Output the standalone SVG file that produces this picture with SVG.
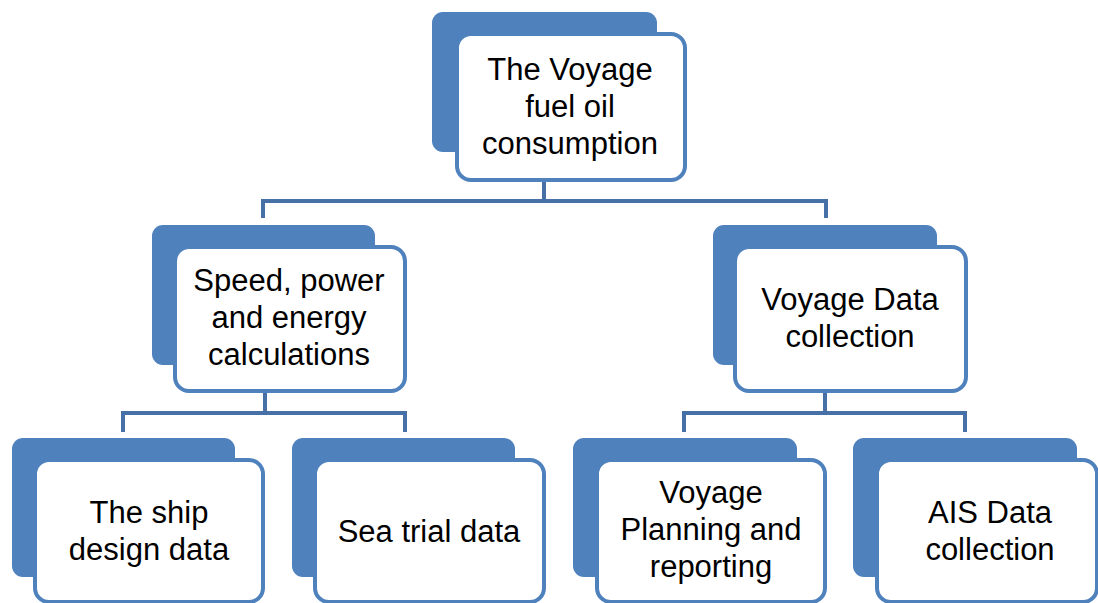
<svg xmlns="http://www.w3.org/2000/svg" width="1098" height="603" viewBox="0 0 1098 603">
<style>
.back{fill:#4F81BD;}
.front{fill:#FFFFFF;stroke:#4F81BD;stroke-width:4;}
.lbl{font-family:"Liberation Sans",Arial,sans-serif;font-size:31px;fill:#000;text-anchor:middle;}
.conn{fill:none;stroke:#4670A6;stroke-width:4;}
</style>
<rect width="1098" height="603" fill="#FFFFFF"/>
<g id="connectors">
<path class="conn" d="M544,182 V201 M263,218 V201 H826 V218"/>
<path class="conn" d="M265,393 V413 M123,432 V413 H405 V432"/>
<path class="conn" d="M825,393 V413 M684,432 V413 H965 V432"/>
</g>
<g id="n-top">
<rect class="back" x="432" y="12" width="225" height="140" rx="11"/>
<rect class="front" x="457" y="34" width="228" height="146" rx="14"/>
<text class="lbl" x="570" y="80">The Voyage</text>
<text class="lbl" x="570" y="117">fuel oil</text>
<text class="lbl" x="570" y="154">consumption</text>
</g>
<g id="n-speed">
<rect class="back" x="152" y="225" width="223" height="140" rx="11"/>
<rect class="front" x="175" y="247" width="230" height="144" rx="14"/>
<text class="lbl" x="289" y="291">Speed, power</text>
<text class="lbl" x="289" y="328">and energy</text>
<text class="lbl" x="289" y="365">calculations</text>
</g>
<g id="n-voyagedata">
<rect class="back" x="713" y="225" width="224" height="140" rx="11"/>
<rect class="front" x="735" y="247" width="231" height="144" rx="14"/>
<text class="lbl" x="850" y="310">Voyage Data</text>
<text class="lbl" x="850" y="347">collection</text>
</g>
<g id="n-ship">
<rect class="back" x="12" y="438" width="223" height="139" rx="11"/>
<rect class="front" x="35" y="460" width="228" height="142" rx="14"/>
<text class="lbl" x="149" y="523">The ship</text>
<text class="lbl" x="149" y="560">design data</text>
</g>
<g id="n-seatrial">
<rect class="back" x="292" y="438" width="223" height="139" rx="11"/>
<rect class="front" x="315" y="460" width="229" height="142" rx="14"/>
<text class="lbl" x="429" y="542">Sea trial data</text>
</g>
<g id="n-planning">
<rect class="back" x="573" y="438" width="224" height="139" rx="11"/>
<rect class="front" x="597" y="460" width="228" height="142" rx="14"/>
<text class="lbl" x="711" y="503">Voyage</text>
<text class="lbl" x="711" y="540">Planning and</text>
<text class="lbl" x="711" y="577">reporting</text>
</g>
<g id="n-ais">
<rect class="back" x="853" y="438" width="224" height="139" rx="11"/>
<rect class="front" x="877" y="460" width="220" height="142" rx="14"/>
<text class="lbl" x="990" y="523">AIS Data</text>
<text class="lbl" x="990" y="560">collection</text>
</g>
</svg>
